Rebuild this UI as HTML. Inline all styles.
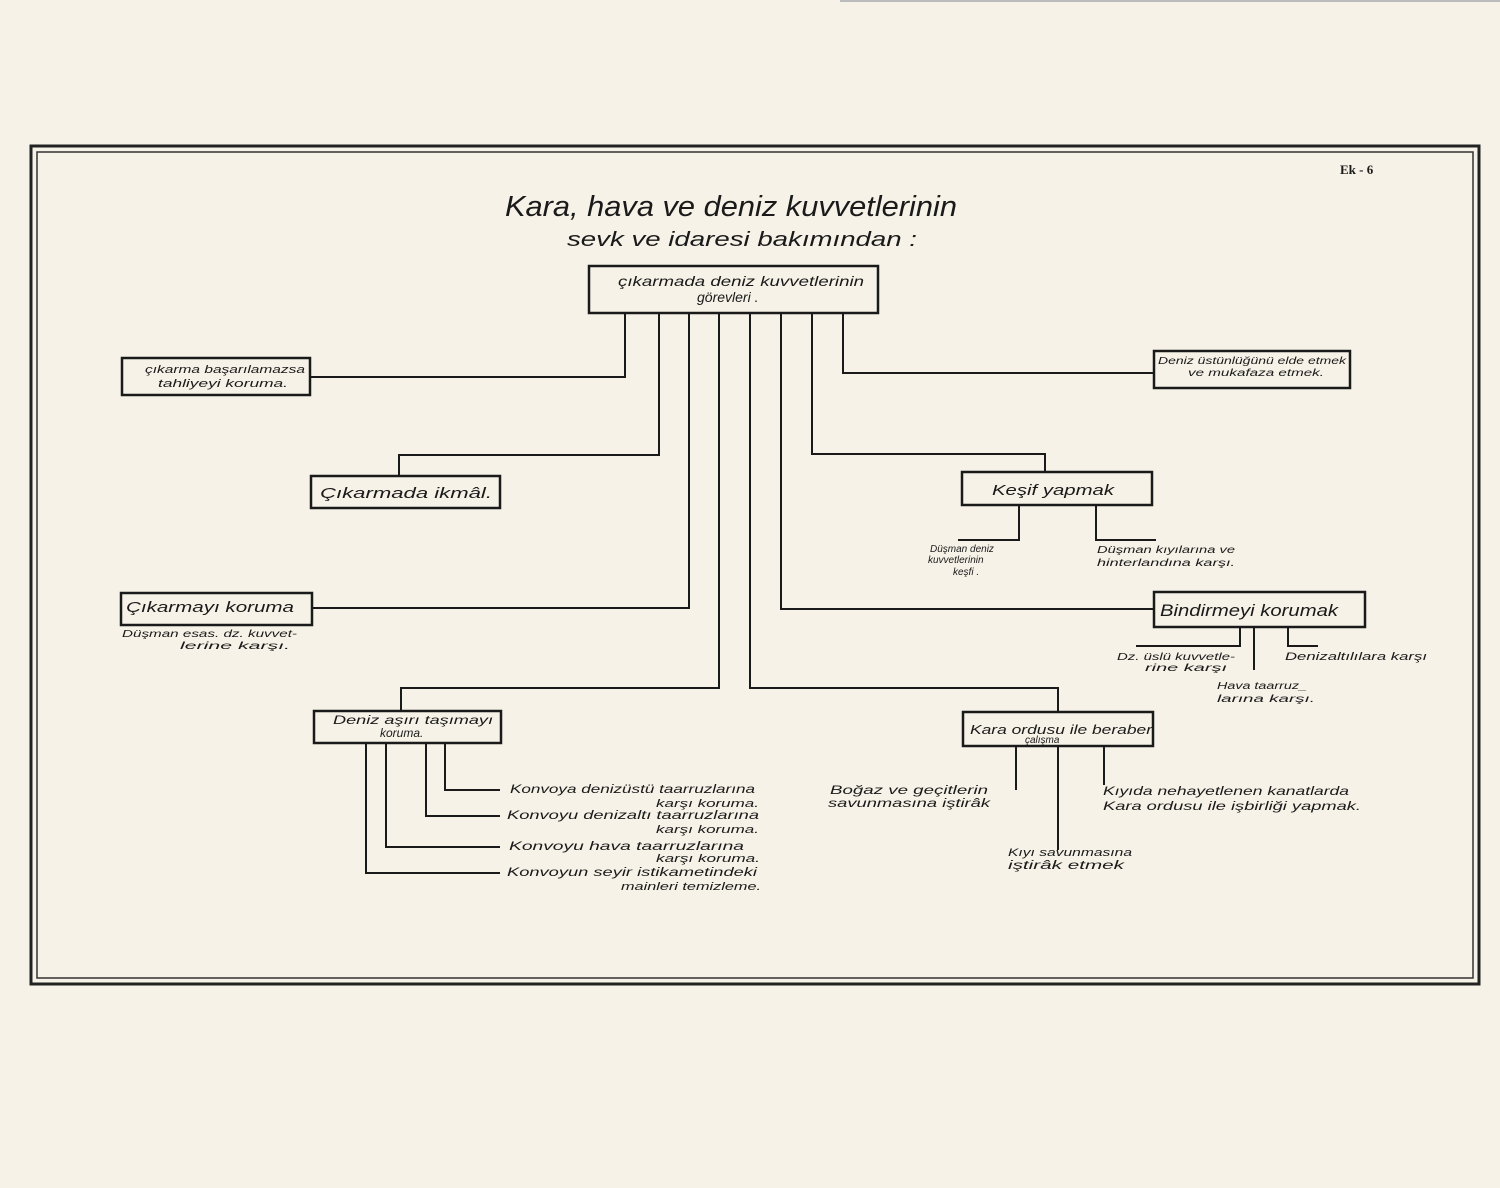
<!DOCTYPE html>
<html><head><meta charset="utf-8"><style>
body{margin:0;background:#f6f2e7;}
svg{display:block}
text{font-family:"Liberation Sans",sans-serif;font-style:italic;fill:#1a1a1a}
</style></head><body>
<svg width="1500" height="1188" viewBox="0 0 1500 1188" xmlns="http://www.w3.org/2000/svg">
<rect width="1500" height="1188" fill="#f6f2e7"/>
<line x1="840" y1="1" x2="1500" y2="1" stroke="#bbb" stroke-width="2"/>
<rect x="31" y="146" width="1448" height="838" fill="none" stroke="#222" stroke-width="3"/>
<rect x="37" y="152" width="1436" height="826" fill="none" stroke="#333" stroke-width="1.5"/>
<text x="1340" y="174" font-size="13" font-weight="bold" style="font-style:normal;font-family:'Liberation Serif',serif">Ek - 6</text>
<text x="505" y="216" font-size="29" textLength="452" lengthAdjust="spacingAndGlyphs">Kara, hava ve deniz kuvvetlerinin</text>
<text x="567" y="246" font-size="20" textLength="350" lengthAdjust="spacingAndGlyphs">sevk ve idaresi bakımından :</text>
<g fill="none" stroke="#1a1a1a" stroke-width="2">
<rect x="589" y="266" width="289" height="47" stroke-width="2.5"/>
<rect x="122" y="358" width="188" height="37" stroke-width="2.5"/>
<rect x="311" y="476" width="189" height="32" stroke-width="2.5"/>
<rect x="121" y="593" width="191" height="32" stroke-width="2.5"/>
<rect x="314" y="711" width="187" height="32" stroke-width="2.5"/>
<rect x="963" y="712" width="190" height="34" stroke-width="2.5"/>
<rect x="1154" y="592" width="211" height="35" stroke-width="2.5"/>
<rect x="962" y="472" width="190" height="33" stroke-width="2.5"/>
<rect x="1154" y="351" width="196" height="37" stroke-width="2.5"/>
<polyline points="625,313 625,377 310,377"/>
<polyline points="659,313 659,455 399,455 399,476"/>
<polyline points="689,313 689,608 312,608"/>
<polyline points="719,313 719,688 401,688 401,711"/>
<polyline points="750,313 750,688 1058,688 1058,712"/>
<polyline points="781,313 781,609 1154,609"/>
<polyline points="812,313 812,454 1045,454 1045,472"/>
<polyline points="843,313 843,373 1154,373"/>
<polyline points="1019,505 1019,540 958,540"/>
<polyline points="1096,505 1096,540 1156,540"/>
<polyline points="1240,627 1240,646 1136,646"/>
<polyline points="1254,627 1254,670"/>
<polyline points="1288,627 1288,646 1318,646"/>
<polyline points="445,743 445,790 500,790"/>
<polyline points="426,743 426,816 500,816"/>
<polyline points="386,743 386,847 500,847"/>
<polyline points="366,743 366,873 500,873"/>
<polyline points="1016,746 1016,790"/>
<polyline points="1058,746 1058,850"/>
<polyline points="1104,746 1104,785"/>
</g>
<text x="618" y="286" font-size="14" textLength="246" lengthAdjust="spacingAndGlyphs">çıkarmada deniz kuvvetlerinin</text>
<text x="697" y="302" font-size="14">görevleri .</text>
<text x="145" y="373" font-size="11" textLength="160" lengthAdjust="spacingAndGlyphs">çıkarma başarılamazsa</text>
<text x="158" y="387" font-size="11" textLength="130" lengthAdjust="spacingAndGlyphs">tahliyeyi koruma.</text>
<text x="320" y="498" font-size="15" textLength="172" lengthAdjust="spacingAndGlyphs">Çıkarmada ikmâl.</text>
<text x="126" y="612" font-size="15" textLength="168" lengthAdjust="spacingAndGlyphs">Çıkarmayı koruma</text>
<text x="122" y="637" font-size="10" textLength="175" lengthAdjust="spacingAndGlyphs">Düşman esas. dz. kuvvet-</text>
<text x="180" y="649" font-size="10" textLength="110" lengthAdjust="spacingAndGlyphs">lerine karşı.</text>
<text x="333" y="724" font-size="12" textLength="160" lengthAdjust="spacingAndGlyphs">Deniz aşırı taşımayı</text>
<text x="380" y="737" font-size="12">koruma.</text>
<text x="970" y="734" font-size="13" textLength="182" lengthAdjust="spacingAndGlyphs">Kara ordusu ile beraber</text>
<text x="1025" y="743" font-size="10">çalışma</text>
<text x="1160" y="616" font-size="17" textLength="178" lengthAdjust="spacingAndGlyphs">Bindirmeyi korumak</text>
<text x="992" y="495" font-size="15" textLength="122" lengthAdjust="spacingAndGlyphs">Keşif yapmak</text>
<text x="1158" y="364" font-size="10" textLength="188" lengthAdjust="spacingAndGlyphs">Deniz üstünlüğünü elde etmek</text>
<text x="1188" y="376" font-size="10" textLength="136" lengthAdjust="spacingAndGlyphs">ve mukafaza etmek.</text>
<text x="930" y="552" font-size="10">Düşman deniz</text>
<text x="928" y="563" font-size="10">kuvvetlerinin</text>
<text x="953" y="575" font-size="10">keşfi .</text>
<text x="1097" y="553" font-size="10" textLength="138" lengthAdjust="spacingAndGlyphs">Düşman kıyılarına ve</text>
<text x="1097" y="566" font-size="10" textLength="138" lengthAdjust="spacingAndGlyphs">hinterlandına karşı.</text>
<text x="1117" y="660" font-size="10" textLength="118" lengthAdjust="spacingAndGlyphs">Dz. üslü kuvvetle-</text>
<text x="1145" y="671" font-size="10" textLength="82" lengthAdjust="spacingAndGlyphs">rine karşı</text>
<text x="1285" y="660" font-size="11" textLength="142" lengthAdjust="spacingAndGlyphs">Denizaltılılara karşı</text>
<text x="1217" y="689" font-size="10" textLength="90" lengthAdjust="spacingAndGlyphs">Hava taarruz_</text>
<text x="1217" y="702" font-size="10" textLength="98" lengthAdjust="spacingAndGlyphs">larına karşı.</text>
<text x="510" y="793" font-size="12" textLength="245" lengthAdjust="spacingAndGlyphs">Konvoya denizüstü taarruzlarına</text>
<text x="656" y="807" font-size="11" textLength="103" lengthAdjust="spacingAndGlyphs">karşı koruma.</text>
<text x="507" y="819" font-size="12" textLength="252" lengthAdjust="spacingAndGlyphs">Konvoyu denizaltı taarruzlarına</text>
<text x="656" y="833" font-size="11" textLength="103" lengthAdjust="spacingAndGlyphs">karşı koruma.</text>
<text x="509" y="850" font-size="12" textLength="235" lengthAdjust="spacingAndGlyphs">Konvoyu hava taarruzlarına</text>
<text x="656" y="862" font-size="11" textLength="104" lengthAdjust="spacingAndGlyphs">karşı koruma.</text>
<text x="507" y="876" font-size="12" textLength="250" lengthAdjust="spacingAndGlyphs">Konvoyun seyir istikametindeki</text>
<text x="621" y="890" font-size="11" textLength="140" lengthAdjust="spacingAndGlyphs">mainleri temizleme.</text>
<text x="830" y="794" font-size="12" textLength="158" lengthAdjust="spacingAndGlyphs">Boğaz ve geçitlerin</text>
<text x="828" y="807" font-size="12" textLength="162" lengthAdjust="spacingAndGlyphs">savunmasına iştirâk</text>
<text x="1103" y="795" font-size="12" textLength="246" lengthAdjust="spacingAndGlyphs">Kıyıda nehayetlenen kanatlarda</text>
<text x="1103" y="810" font-size="12" textLength="258" lengthAdjust="spacingAndGlyphs">Kara ordusu ile işbirliği yapmak.</text>
<text x="1008" y="856" font-size="11" textLength="124" lengthAdjust="spacingAndGlyphs">Kıyı savunmasına</text>
<text x="1008" y="869" font-size="12" textLength="116" lengthAdjust="spacingAndGlyphs">iştirâk etmek</text>
</svg>
</body></html>
